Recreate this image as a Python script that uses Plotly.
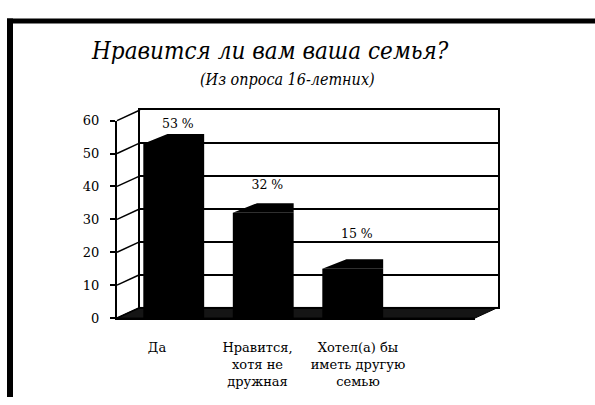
import plotly.graph_objects as go

# ---- data ----
categories = ["Да", "Нравится,<br>хотя не<br>дружная", "Хотел(а) бы<br>иметь другую<br>семью"]
values = [53, 32, 15]
value_labels = ["53 %", "32 %", "15 %"]
y_ticks = [0, 10, 20, 30, 40, 50, 60]
title_text = "Нравится ли вам ваша семья?"
subtitle_text = "(Из опроса 16-летних)"

W, H = 595, 405
def px(x):
    return x / W
def py(y):
    return 1 - y / H

# geometry (pixels)
FX0, FX1 = 117, 475      # front plane x
FY0, FY1 = 323, 118      # front plane y for 0 and 60
BX0, BX1 = 140, 498      # back wall x
BY0, BY1 = 312, 107      # back wall y for 0 and 60
YMAX = 60

FONT = "DejaVu Serif"
FONT_T = "DejaVu Serif Condensed, DejaVu Serif"
BAR_W = 0.68
BAR_OFF = -0.206
CAP_DX, CAP_DY = 0.27, 2.9

fig = go.Figure()

fig.add_trace(go.Scatter(x=[None], y=[None], xaxis="x", yaxis="y",
                         showlegend=False, hoverinfo="skip"))

idx = list(range(len(values)))
fig.add_trace(go.Bar(x=idx, y=values, xaxis="x2", yaxis="y2",
                     width=BAR_W, offset=BAR_OFF,
                     marker=dict(color="black", line=dict(width=0)),
                     showlegend=False, hoverinfo="skip"))

cx, cy = [], []
for i, v in zip(idx, values):
    x0 = i + BAR_OFF
    x1 = x0 + BAR_W
    cx += [x0, x0 + CAP_DX, x1, x1, x0, None]
    cy += [v, v + CAP_DY, v + CAP_DY, v, v, None]
fig.add_trace(go.Scatter(x=cx, y=cy, xaxis="x2", yaxis="y2", mode="lines",
                         fill="toself", fillcolor="black",
                         line=dict(width=0, color="black"),
                         showlegend=False, hoverinfo="skip", cliponaxis=False))

# value labels: placed above each bar, between the wall grid lines
fig.add_trace(go.Scatter(x=[i + 0.18 for i in idx], y=[0.88 * v + 12 for v in values],
                         xaxis="x2", yaxis="y2", mode="text",
                         text=value_labels, textposition="middle center",
                         textfont=dict(family=FONT, size=12.5, color="black"),
                         cliponaxis=False, showlegend=False, hoverinfo="skip"))

fig.add_trace(go.Scatter(x=[None], y=[None], xaxis="x3", yaxis="y2",
                         showlegend=False, hoverinfo="skip"))

shapes = []
shapes.append(dict(type="path", xref="paper", yref="paper", layer="below",
                   path=f"M {px(FX0)},{py(FY0)} L {px(FX1)},{py(FY0)} L {px(BX1)},{py(BY0)} L {px(BX0)},{py(BY0)} Z",
                   fillcolor="#151515", line=dict(color="black", width=1)))
for v in y_ticks:
    yf = FY0 + (FY1 - FY0) * v / YMAX
    yb = BY0 + (BY1 - BY0) * v / YMAX
    shapes.append(dict(type="line", xref="paper", yref="paper", layer="above",
                       x0=px(FX0), y0=py(yf), x1=px(BX0), y1=py(yb),
                       line=dict(color="black", width=1.5)))
shapes.append(dict(type="line", xref="paper", yref="paper",
                   x0=px(7), x1=1, y0=py(14.5), y1=py(14.5),
                   line=dict(color="black", width=5)))
shapes.append(dict(type="line", xref="paper", yref="paper",
                   x0=px(10), x1=px(10), y0=py(12), y1=0,
                   line=dict(color="black", width=6)))

annotations = [
    dict(text=f"<i>{title_text}</i>", xref="paper", yref="paper",
         x=px(270), y=py(46), xanchor="center", yanchor="middle", showarrow=False,
         font=dict(family=FONT_T, size=24, color="black")),
    dict(text=f"<i>{subtitle_text}</i>", xref="paper", yref="paper",
         x=px(287), y=py(75), xanchor="center", yanchor="middle", showarrow=False,
         font=dict(family=FONT_T, size=16, color="black")),
]

lab_spacing = 100.5
lab_start = -(157 - FX0) / lab_spacing

fig.update_layout(
    width=W, height=H,
    margin=dict(l=0, r=0, t=0, b=0),
    paper_bgcolor="white", plot_bgcolor="rgba(0,0,0,0)",
    showlegend=False,
    font=dict(family=FONT, color="black"),
    shapes=shapes, annotations=annotations,
    xaxis=dict(domain=[px(BX0), px(BX1)], range=[0, 1], showgrid=False,
               showticklabels=False, zeroline=False, ticks="",
               showline=True, mirror=True, linecolor="black", linewidth=2,
               fixedrange=True),
    yaxis=dict(domain=[py(BY0), py(BY1)], range=[0, YMAX], tickvals=y_ticks,
               showgrid=True, gridcolor="black", gridwidth=2,
               showticklabels=False, ticks="", zeroline=False,
               showline=True, mirror=True, linecolor="black", linewidth=2,
               fixedrange=True),
    xaxis2=dict(domain=[px(FX0), px(FX1)], range=[-0.5, 3.5], anchor="y2",
                showgrid=False, showticklabels=False, zeroline=False, ticks="",
                showline=True, linecolor="black", linewidth=2, fixedrange=True),
    yaxis2=dict(domain=[py(FY0), py(FY1)], range=[0, YMAX], anchor="x2",
                tickvals=y_ticks, ticks="outside", ticklen=5, tickwidth=2,
                tickcolor="black", showgrid=False, zeroline=False,
                showline=True, linecolor="black", linewidth=2,
                ticklabelstandoff=8,
                tickfont=dict(family=FONT, size=13, color="black"),
                fixedrange=True),
    xaxis3=dict(domain=[px(FX0), px(FX1)], anchor="y2",
                range=[lab_start, lab_start + (FX1 - FX0) / lab_spacing],
                tickvals=idx, ticktext=categories, ticks="", showgrid=False,
                zeroline=False, showline=False, ticklabelstandoff=20,
                tickfont=dict(family=FONT, size=13, color="black"),
                fixedrange=True),
)

fig.write_html("out.html", post_script="document.body.style.margin='0';",
               config={"displayModeBar": False})
